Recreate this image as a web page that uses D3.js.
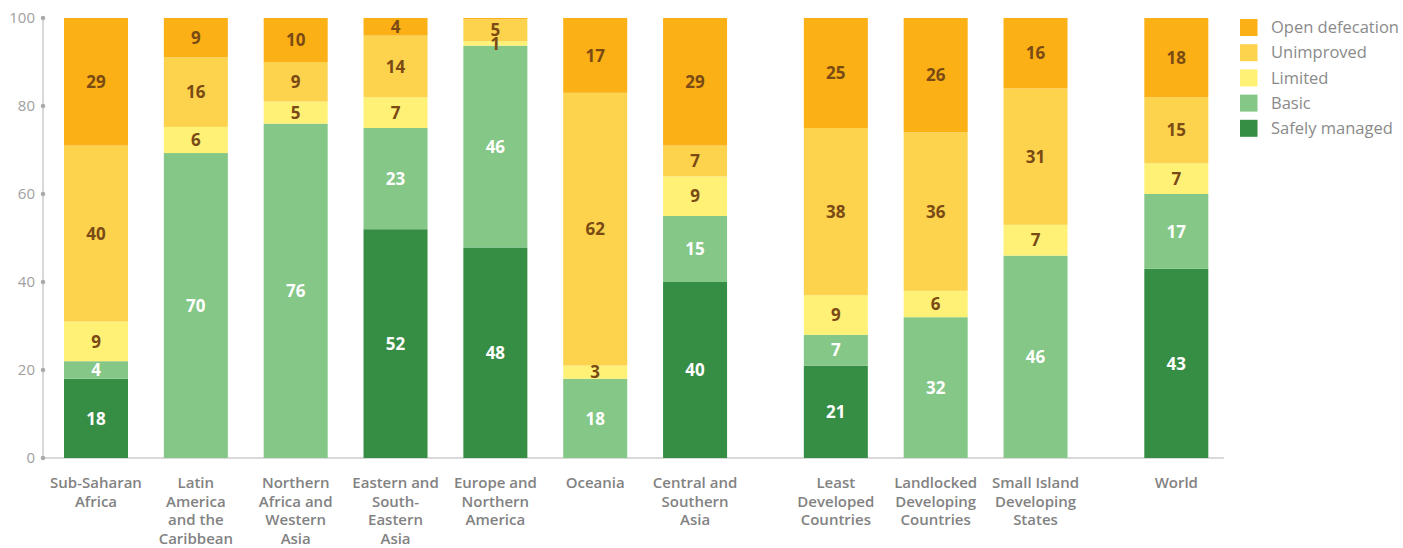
<!DOCTYPE html>
<html>
<head>
<meta charset="utf-8">
<script src="https://cdn.jsdelivr.net/npm/d3@7"></script>
<style>
  html, body { margin: 0; padding: 0; background: #fff; }
  svg { display: block; font-family: "Open Sans", "Noto Sans", sans-serif; }
</style>
</head>
<body>
<svg id="chart" width="1403" height="548"></svg>
<script>
// ---- data ----
const categories = [
  "Sub-Saharan Africa", "Latin America and the Caribbean", "Northern Africa and Western Asia",
  "Eastern and South-Eastern Asia", "Europe and Northern America", "Oceania",
  "Central and Southern Asia", "Least Developed Countries", "Landlocked Developing Countries",
  "Small Island Developing States", "World"
];
const categoryLines = [
  ["Sub-Saharan", "Africa"],
  ["Latin", "America", "and the", "Caribbean"],
  ["Northern", "Africa and", "Western", "Asia"],
  ["Eastern and", "South-", "Eastern", "Asia"],
  ["Europe and", "Northern", "America"],
  ["Oceania"],
  ["Central and", "Southern", "Asia"],
  ["Least", "Developed", "Countries"],
  ["Landlocked", "Developing", "Countries"],
  ["Small Island", "Developing", "States"],
  ["World"]
];
const groupOf = [0, 0, 0, 0, 0, 0, 0, 1, 1, 1, 2];
const seriesNames = ["Safely managed", "Basic", "Limited", "Unimproved", "Open defecation"];
const safelyManaged  = [18, 0, 0, 52, 48, 0, 40, 21, 0, 0, 43];
const basic          = [4, 70, 76, 23, 46, 18, 15, 7, 32, 46, 17];
const limited        = [9, 6, 5, 7, 1, 3, 9, 9, 6, 7, 7];
const unimproved     = [40, 16, 9, 14, 5, 62, 7, 38, 36, 31, 15];
const openDefecation = [29, 9, 10, 4, 0.3, 17, 29, 25, 26, 16, 18];
const yTicks = [0, 20, 40, 60, 80, 100];
const colors = ["#368e45", "#84c787", "#fef176", "#fdd34e", "#fbb016"];
const labelColors = ["#ffffff", "#ffffff", "#7a4a14", "#7a4a14", "#7a4a14"];

const seriesValues = [safelyManaged, basic, limited, unimproved, openDefecation];
const rows = categories.map((c, i) => {
  const r = { category: c, index: i };
  seriesNames.forEach((s, k) => r[s] = seriesValues[k][i]);
  return r;
});

// ---- layout ----
const svg = d3.select("#chart");
const y0 = 458, y100 = 18, axisX = 43, axisEnd = 1224;
const barW = 64;
const gapExtra = 0.41;

const y = d3.scaleLinear().domain([0, 1]).range([y0, y100]);
const x = d3.scaleLinear().domain([0, 10 + 2 * gapExtra]).range([96, 1176.3]);
const cx = i => x(i + gapExtra * groupOf[i]);

const stack = d3.stack().keys(seriesNames).offset(d3.stackOffsetExpand);
const stacked = stack(rows);

// axes lines
svg.append("line").attr("x1", axisX).attr("x2", axisEnd).attr("y1", y0).attr("y2", y0)
  .attr("stroke", "#cccccc").attr("stroke-width", 1.5);
svg.append("line").attr("x1", axisX).attr("x2", axisX).attr("y1", y100).attr("y2", y0)
  .attr("stroke", "#cccccc").attr("stroke-width", 1.5);

// y ticks
const yt = svg.append("g");
yTicks.forEach(t => {
  const yy = y(t / 100);
  yt.append("circle").attr("cx", axisX).attr("cy", yy).attr("r", 2.3).attr("fill", "#aaaaaa");
  yt.append("text").attr("x", 35).attr("y", yy).attr("dy", "0.35em")
    .attr("text-anchor", "end").attr("fill", "#a0a0a0").attr("font-size", 15)
    .text(t);
});

// bars
const g = svg.append("g");
stacked.forEach((layer, k) => {
  g.selectAll(null).data(layer).enter().append("rect")
    .attr("x", d => cx(d.data.index) - barW / 2)
    .attr("width", barW)
    .attr("y", d => y(d[1]))
    .attr("height", d => Math.max(0, y(d[0]) - y(d[1])))
    .attr("fill", colors[k]);
});
// labels
stacked.forEach((layer, k) => {
  g.selectAll(null).data(layer.filter(d => Math.round(d.data[seriesNames[k]]) > 0)).enter().append("text")
    .attr("x", d => cx(d.data.index))
    .attr("y", d => (y(d[0]) + y(d[1])) / 2)
    .attr("dy", "0.36em")
    .attr("text-anchor", "middle")
    .attr("font-size", 17).attr("font-weight", 700)
    .attr("fill", labelColors[k])
    .text(d => Math.round(d.data[seriesNames[k]]));
});

// category labels
categoryLines.forEach((lines, i) => {
  const t = svg.append("text").attr("text-anchor", "middle")
    .attr("fill", "#828282").attr("font-size", 15).attr("font-weight", 600);
  lines.forEach((ln, j) => {
    t.append("tspan").attr("x", cx(i)).attr("y", 488 + j * 18.7).text(ln);
  });
});

// legend
const legendOrder = [4, 3, 2, 1, 0];
const lg = svg.append("g");
legendOrder.forEach((k, j) => {
  const yy = 27.5 + j * 25.2;
  lg.append("rect").attr("x", 1240).attr("y", yy - 8.5).attr("width", 17.5).attr("height", 17)
    .attr("fill", colors[k]);
  lg.append("text").attr("x", 1271).attr("y", yy).attr("dy", "0.35em")
    .attr("fill", "#8a8a8a").attr("font-size", 16.5).text(seriesNames[k]);
});
</script>
</body>
</html>
